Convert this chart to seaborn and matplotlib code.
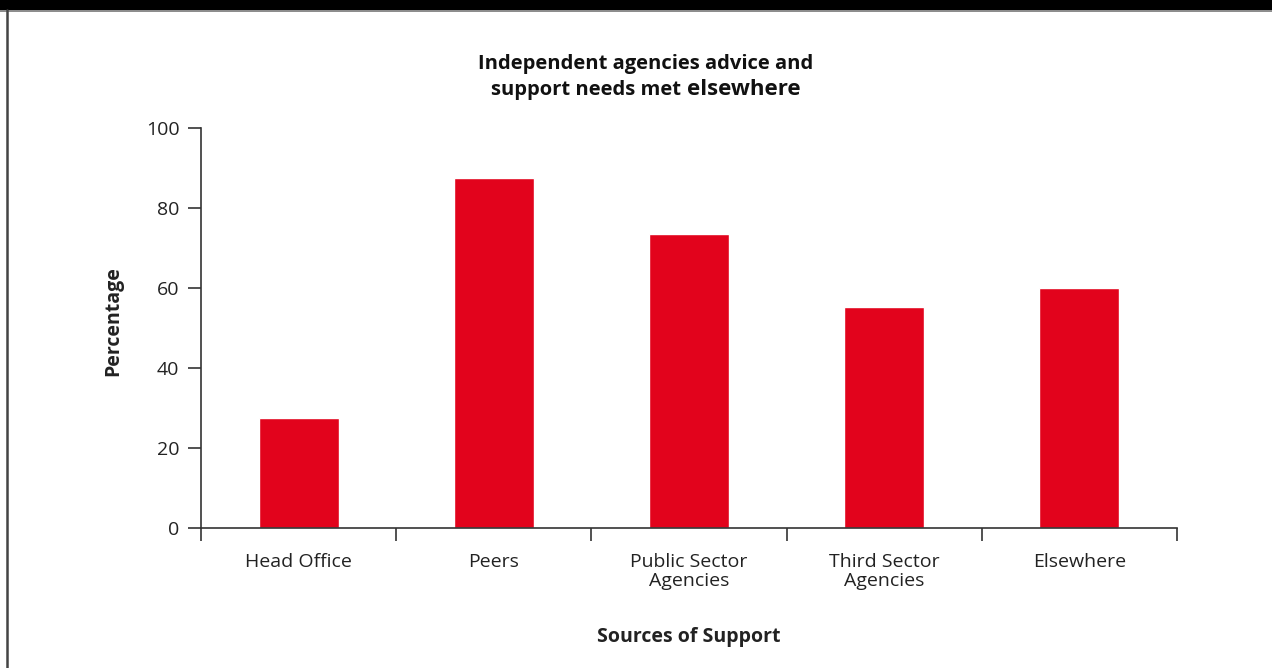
import matplotlib
matplotlib.use("Agg")
import matplotlib.pyplot as plt
from matplotlib.patches import Rectangle
from matplotlib.lines import Line2D
import seaborn as sns
import pandas as pd
import numpy as np

categories = ["Head Office", "Peers", "Public Sector\nAgencies", "Third Sector\nAgencies", "Elsewhere"]
percentages = [27.5, 87.5, 73.5, 55.25, 60.0]
y_ticks = [0, 20, 40, 60, 80, 100]

sns.set_theme(style="white")
plt.rcParams["font.family"] = ["Open Sans", "DejaVu Sans"]

BAR_RED = "#e2031c"
INK = "#222222"
SPINE = "#333333"
FS = 14

df = pd.DataFrame({"source": categories, "pct": percentages})

W, H = 1272, 668
fig = plt.figure(figsize=(W / 100, H / 100), dpi=100)
ax = fig.add_axes([201 / W, 1 - 528 / H, 976 / W, 400 / H])

sns.barplot(data=df, x="source", y="pct", color=BAR_RED, saturation=1,
            width=0.41, ax=ax)

ax.set_xlim(-0.5, len(categories) - 0.5)
ax.set_ylim(0, 100)
ax.set_yticks(y_ticks)
ax.set_yticklabels([str(v) for v in y_ticks], fontsize=FS, color=INK)

# category labels centred under bars, tick marks on category boundaries
ax.set_xticks(np.arange(len(categories)))
ax.set_xticklabels(categories, fontsize=FS, color=INK, linespacing=1.1)
ax.set_xticks(np.arange(len(categories) + 1) - 0.5, minor=True)
ax.tick_params(axis="x", which="both", bottom=True)
ax.tick_params(axis="y", which="both", left=True)
ax.tick_params(axis="x", which="major", length=0, pad=18)
ax.tick_params(axis="x", which="minor", length=9, width=1.2, color=SPINE, direction="out")
ax.tick_params(axis="y", which="major", length=9.5, width=1.2, color=SPINE, direction="out", pad=6)

for side in ("top", "right"):
    ax.spines[side].set_visible(False)
for side in ("left", "bottom"):
    ax.spines[side].set_color(SPINE)
    ax.spines[side].set_linewidth(1.2)

ax.set_xlabel("Sources of Support", fontsize=FS, fontweight="bold", color=INK, labelpad=26)
ax.set_ylabel("Percentage", fontsize=FS, fontweight="bold", color=INK)
ax.yaxis.set_label_coords(-0.080, 0.5175)

# two-line title; the closing word is set a little larger
cx = 646 / W
fig.text(cx, 1 - 69 / H, "Independent agencies advice and", ha="center", va="baseline",
         fontsize=14.5, fontweight="bold", color="#111111")
renderer = fig.canvas.get_renderer()
p1 = fig.text(0, 1 - 95 / H, "support needs met", ha="left", va="baseline",
              fontsize=14.5, fontweight="bold", color="#111111")
p2 = fig.text(0, 1 - 95 / H, "elsewhere", ha="left", va="baseline",
              fontsize=16, fontweight="bold", color="#111111")
w1 = p1.get_window_extent(renderer).width
w2 = p2.get_window_extent(renderer).width
gap = 5.5
x0 = cx * W - (w1 + gap + w2) / 2
p1.set_x(x0 / W)
p2.set_x((x0 + w1 + gap) / W)

# page furniture: black header band and left rule
fig.add_artist(Rectangle((0, 1 - 10 / H), 1, 10 / H, transform=fig.transFigure,
                         facecolor="black", edgecolor="none"))
fig.add_artist(Line2D([0, 1], [1 - 10.5 / H] * 2, transform=fig.transFigure,
                      color="#777777", linewidth=1.2))
fig.add_artist(Line2D([6.5 / W] * 2, [0, 1 - 10 / H], transform=fig.transFigure,
                      color="#444444", linewidth=1.8))

fig.savefig("out.png", dpi=100, facecolor="white")
